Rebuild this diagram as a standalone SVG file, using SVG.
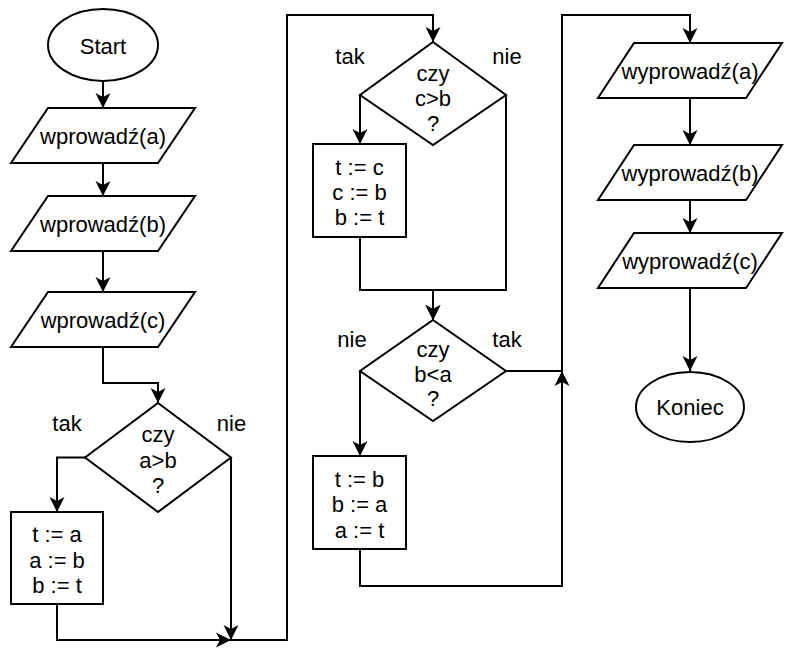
<svg xmlns="http://www.w3.org/2000/svg" width="785" height="648" viewBox="0 0 785 648">
<defs>
<marker id="arr" viewBox="0 0 16 16" refX="15" refY="8" markerWidth="16" markerHeight="16" markerUnits="userSpaceOnUse" orient="auto">
<path d="M15,8 L0,0.5 L4,8 L0,15.5 Z" fill="#000"/>
</marker>
<style>
.s{fill:#fff;stroke:#000;stroke-width:2}
.c{fill:none;stroke:#000;stroke-width:2}
text{font-family:"Liberation Sans",Arial,Helvetica,sans-serif;font-size:22px;fill:#000;text-anchor:middle}
</style>
</defs>
<rect width="785" height="648" fill="#fff"/>
<g id="connectors">
<path class="c" d="M103,81 V108" marker-end="url(#arr)"/>
<path class="c" d="M103,163 V196" marker-end="url(#arr)"/>
<path class="c" d="M103,251 V292" marker-end="url(#arr)"/>
<path class="c" d="M103,347 V383 H158 V403" marker-end="url(#arr)"/>
<path class="c" d="M85,457.5 H57 V512" marker-end="url(#arr)"/>
<path class="c" d="M57,604 V640 H231" marker-end="url(#arr)"/>
<path class="c" d="M231,457.5 V640" marker-end="url(#arr)"/>
<path class="c" d="M231,640 H287 V15 H433 V42" marker-end="url(#arr)"/>
<path class="c" d="M360,95 V144" marker-end="url(#arr)"/>
<path class="c" d="M360,237 V290 H433 V320" marker-end="url(#arr)"/>
<path class="c" d="M506,95 V290 H433 V320" marker-end="url(#arr)"/>
<path class="c" d="M360,371 V456" marker-end="url(#arr)"/>
<path class="c" d="M360,549 V586 H562 V371" marker-end="url(#arr)"/>
<path class="c" d="M506,371 H562 V15 H690 V43" marker-end="url(#arr)"/>
<path class="c" d="M690,98 V145" marker-end="url(#arr)"/>
<path class="c" d="M690,200 V233" marker-end="url(#arr)"/>
<path class="c" d="M690,288 V371" marker-end="url(#arr)"/>
</g>
<g id="start"><ellipse class="s" cx="103" cy="45" rx="55" ry="36"/><text x="103" y="53.5">Start</text></g>
<g id="in_a"><polygon class="s" points="48,108 195,108 158,163 11,163"/><text x="103" y="144">wprowadź(a)</text></g>
<g id="in_b"><polygon class="s" points="48,196 195,196 158,251 11,251"/><text x="103" y="232">wprowadź(b)</text></g>
<g id="in_c"><polygon class="s" points="48,292 195,292 158,347 11,347"/><text x="103" y="328">wprowadź(c)</text></g>
<g id="dec1"><polygon class="s" points="158,403 231,457.5 158,512 85,457.5"/>
<text x="158" y="442">czy</text><text x="158" y="468">a&gt;b</text><text x="158" y="493">?</text></g>
<g id="lbl1"><text x="67" y="431">tak</text><text x="231.5" y="431">nie</text></g>
<g id="box1"><rect class="s" x="11" y="512" width="92" height="92"/>
<text x="57" y="542">t := a</text><text x="57" y="567.5">a := b</text><text x="57" y="593">b := t</text></g>
<g id="dec2"><polygon class="s" points="433,42 506,95 433,145 360,95"/>
<text x="433" y="81">czy</text><text x="433" y="106">c&gt;b</text><text x="433" y="131">?</text></g>
<g id="lbl2"><text x="350" y="64">tak</text><text x="507" y="64">nie</text></g>
<g id="box2"><rect class="s" x="313" y="144" width="93" height="93"/>
<text x="359.5" y="175">t := c</text><text x="359.5" y="200">c := b</text><text x="359.5" y="225">b := t</text></g>
<g id="dec3"><polygon class="s" points="433,320 506,371 433,421 360,371"/>
<text x="433" y="357">czy</text><text x="433" y="382">b&lt;a</text><text x="433" y="406">?</text></g>
<g id="lbl3"><text x="352" y="347">nie</text><text x="507" y="347">tak</text></g>
<g id="box3"><rect class="s" x="313" y="456" width="93" height="93"/>
<text x="359.5" y="487">t := b</text><text x="359.5" y="512">b := a</text><text x="359.5" y="538">a := t</text></g>
<g id="out_a"><polygon class="s" points="634,43 782,43 746,98 598,98"/><text x="690" y="79">wyprowadź(a)</text></g>
<g id="out_b"><polygon class="s" points="634,145 782,145 746,200 598,200"/><text x="690" y="181">wyprowadź(b)</text></g>
<g id="out_c"><polygon class="s" points="634,233 782,233 746,288 598,288"/><text x="690" y="269">wyprowadź(c)</text></g>
<g id="end"><ellipse class="s" cx="690" cy="407" rx="54" ry="35"/><text x="690" y="415">Koniec</text></g>
</svg>
